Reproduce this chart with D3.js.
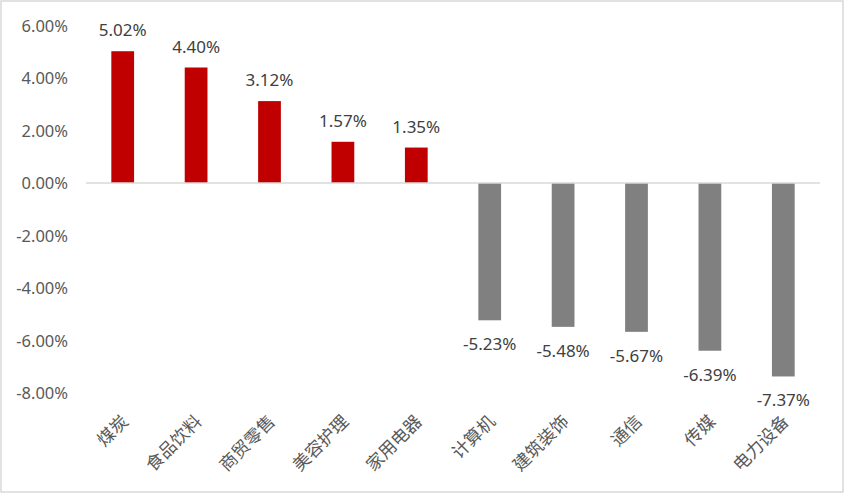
<!DOCTYPE html>
<html lang="zh">
<head>
<meta charset="UTF-8">
<title>行业涨跌幅</title>
<script src="https://d3js.org/d3.v7.min.js"></script>
<style>
  body { margin: 0; background: #fff; }
  text { font-family: "Noto Sans", "Noto Sans CJK SC", sans-serif; fill: #595959; }
</style>
</head>
<body>
<script>
    // 行业名称和涨跌幅(%)
    var industries = ['煤炭', '食品饮料', '商贸零售', '美容护理', '家用电器',
                      '计算机', '建筑装饰', '通信', '传媒', '电力设备'];
    var changes = [5.02, 4.40, 3.12, 1.57, 1.35, -5.23, -5.48, -5.67, -6.39, -7.37];
    var yTicks = [6, 4, 2, 0, -2, -4, -6, -8];

    var width = 845, height = 494;

    var svg = d3.select('body')
        .append('svg')
        .attr('width', width)
        .attr('height', height);

    // 外框
    svg.append('rect')
        .attr('x', 1).attr('y', 1)
        .attr('width', width - 3).attr('height', height - 3)
        .attr('fill', 'none')
        .attr('stroke', '#d9d9d9')
        .attr('stroke-width', 1.5);

    var x = d3.scaleBand()
        .domain(industries)
        .range([86, 820])
        .paddingInner(0.69)
        .paddingOuter(0.345);

    var y = d3.scaleLinear()
        .domain([-8, 6])
        .range([393, 25.5]);

    // y 轴刻度
    svg.append('g')
        .selectAll('text')
        .data(yTicks)
        .enter()
        .append('text')
            .attr('x', 68)
            .attr('y', function(d) { return y(d); })
            .attr('dy', '0.38em')
            .attr('text-anchor', 'end')
            .style('font-size', '16.5px')
            .text(function(d) { return d.toFixed(2) + '%'; });

    // 柱子
    svg.append('g')
        .selectAll('rect')
        .data(changes)
        .enter()
        .append('rect')
            .attr('x', function(d, i) { return x(industries[i]); })
            .attr('y', function(d) { return y(Math.max(0, d)); })
            .attr('width', x.bandwidth())
            .attr('height', function(d) { return Math.abs(y(d) - y(0)); })
            .attr('fill', function(d) { return d >= 0 ? '#c00000' : '#808080'; });

    // 零线
    svg.append('line')
        .attr('x1', 86).attr('x2', 820)
        .attr('y1', y(0)).attr('y2', y(0))
        .attr('stroke', '#d9d9d9')
        .attr('stroke-width', 1.5);

    // 数值标签
    svg.append('g')
        .selectAll('text')
        .data(changes)
        .enter()
        .append('text')
            .attr('x', function(d, i) { return x(industries[i]) + x.bandwidth() / 2; })
            .attr('y', function(d) { return d >= 0 ? y(d) - 15 : y(d) + 30; })
            .attr('text-anchor', 'middle')
            .style('font-size', '17px')
            .style('fill', '#404040')
            .text(function(d) { return d.toFixed(2) + '%'; });

    // 类别标签
    svg.append('g')
        .selectAll('text')
        .data(industries)
        .enter()
        .append('text')
            .attr('transform', function(d) {
                return 'translate(' + (x(d) + x.bandwidth() / 2 - 2) + ',414) rotate(-45)';
            })
            .attr('text-anchor', 'end')
            .attr('dy', '0.7em')
            .style('font-size', '17.5px')
            .text(function(d) { return d; });
</script>
</body>
</html>
